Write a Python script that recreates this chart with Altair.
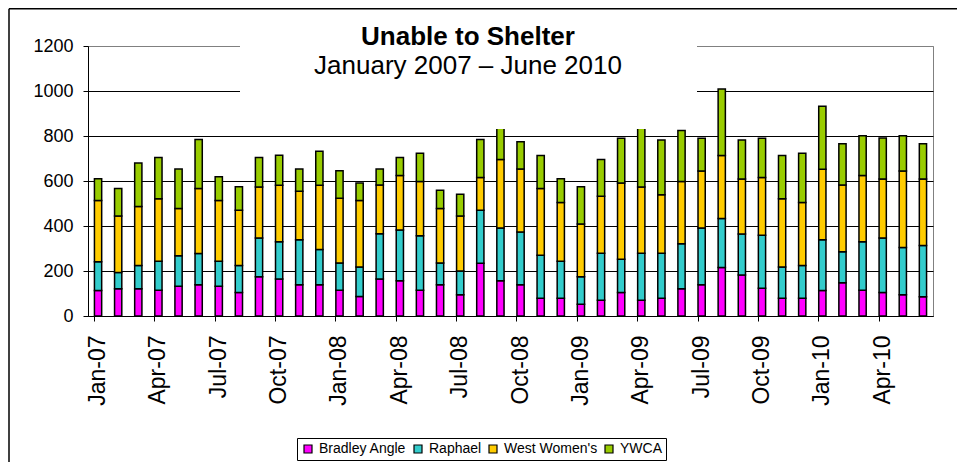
import altair as alt
import pandas as pd

months = ["Jan-07", "Feb-07", "Mar-07", "Apr-07", "May-07", "Jun-07",
          "Jul-07", "Aug-07", "Sep-07", "Oct-07", "Nov-07", "Dec-07",
          "Jan-08", "Feb-08", "Mar-08", "Apr-08", "May-08", "Jun-08",
          "Jul-08", "Aug-08", "Sep-08", "Oct-08", "Nov-08", "Dec-08",
          "Jan-09", "Feb-09", "Mar-09", "Apr-09", "May-09", "Jun-09",
          "Jul-09", "Aug-09", "Sep-09", "Oct-09", "Nov-09", "Dec-09",
          "Jan-10", "Feb-10", "Mar-10", "Apr-10", "May-10", "Jun-10"]

bradley = [113, 121, 121, 114, 132, 139, 132, 104, 175, 164, 139, 139,
           114, 87, 164, 157, 114, 139, 95, 234, 157, 139, 79, 79,
           52, 70, 104, 70, 79, 121, 139, 216, 182, 123, 79, 79,
           113, 148, 114, 105, 95, 86]
raphael = [128, 72, 104, 129, 136, 139, 111, 121, 172, 166, 200, 157,
           122, 131, 202, 225, 243, 97, 105, 236, 234, 234, 191, 164,
           123, 209, 148, 209, 200, 200, 252, 217, 182, 236, 139, 146,
           226, 138, 216, 242, 210, 227]
west = [272, 251, 262, 278, 210, 289, 270, 245, 226, 251, 215, 285,
        287, 295, 216, 243, 241, 242, 244, 146, 305, 280, 297, 261,
        234, 253, 339, 294, 260, 277, 253, 280, 245, 257, 303, 280,
        313, 296, 295, 262, 339, 296]
ywca = [97, 123, 193, 184, 175, 217, 106, 105, 132, 133, 99, 151,
        123, 78, 71, 80, 125, 81, 97, 168, 180, 122, 146, 106,
        166, 164, 199, 300, 243, 227, 146, 296, 173, 174, 192, 218,
        280, 184, 176, 182, 157, 157]

series_names = ["Bradley Angle", "Raphael", "West Women's", "YWCA"]
series_colors = ["#FF00FF", "#33CCCC", "#FFCC00", "#99CC00"]
tick_months = ["Jan-07", "Apr-07", "Jul-07", "Oct-07", "Jan-08", "Apr-08",
               "Jul-08", "Oct-08", "Jan-09", "Apr-09", "Jul-09", "Oct-09",
               "Jan-10", "Apr-10"]
y_ticks = [0, 200, 400, 600, 800, 1000, 1200]

rows = []
for i, m in enumerate(months):
    for k, vals in enumerate([bradley, raphael, west, ywca]):
        rows.append({"Month": m, "Series": series_names[k], "Order": k, "Value": vals[i]})
df = pd.DataFrame(rows)

FONT = "Liberation Sans"
W, H = 845, 270

bars = alt.Chart(df).mark_bar(stroke="black", strokeWidth=1.5).encode(
    x=alt.X("Month:N", sort=months,
            scale=alt.Scale(paddingInner=0.64, paddingOuter=0.32),
            axis=alt.Axis(title=None, values=tick_months, labelAngle=270,
                          labelFontSize=23, labelFont=FONT, labelColor="black",
                          labelPadding=14, tickSize=5, tickColor="black",
                          domainColor="black", bandPosition=0, grid=False)),
    y=alt.Y("Value:Q", stack="zero",
            scale=alt.Scale(domain=[0, 1200], nice=False),
            axis=alt.Axis(title=None, values=y_ticks, format="d", labelFontSize=18,
                          labelFont=FONT, labelColor="black", labelPadding=10,
                          tickSize=5, tickColor="black", domainColor="black",
                          grid=True,
                          gridColor={"condition": {"test": "datum.value === 1200", "value": "#808080"},
                                     "value": "black"})),
    color=alt.Color("Series:N",
                    scale=alt.Scale(domain=series_names, range=series_colors),
                    legend=alt.Legend(title=None, orient="none", legendX=209, legendY=392,
                                      direction="horizontal", symbolType="square",
                                      symbolSize=64, symbolStrokeColor="black",
                                      symbolStrokeWidth=1.2, labelFontSize=14,
                                      labelFont=FONT, labelColor="black",
                                      strokeColor="black", fillColor="white",
                                      padding=4, columnPadding=4, labelOffset=4)),
    order=alt.Order("Order:Q", sort="ascending"),
)

one = alt.Data(values=[{"k": 1}])

box = alt.Chart(one).mark_rect(fill="white").encode(
    x=alt.value(152), x2=alt.value(609), y=alt.value(-31), y2=alt.value(83))

title = alt.Chart(one).mark_text(text="Unable to Shelter", font=FONT, fontSize=26,
                                 fontWeight="bold", align="center", baseline="alphabetic",
                                 color="black").encode(x=alt.value(380), y=alt.value(-1))
subtitle = alt.Chart(one).mark_text(text="January 2007 \u2013 June 2010", font=FONT,
                                    fontSize=26, align="center", baseline="alphabetic",
                                    color="black").encode(x=alt.value(380), y=alt.value(28))

frame_top = alt.Chart(one).mark_rule(stroke="black", strokeWidth=1.5).encode(
    x=alt.value(-79), x2=alt.value(1000), y=alt.value(-37.25))
frame_left = alt.Chart(one).mark_rule(stroke="black", strokeWidth=1.5).encode(
    x=alt.value(-79), y=alt.value(-37.25), y2=alt.value(600))

chart = alt.layer(bars, box, title, subtitle, frame_top, frame_left).properties(
    width=W, height=H,
    padding={"left": 80, "top": 38, "right": 24, "bottom": 146},
    autosize=alt.AutoSizeParams(type="none"),
    background="white",
).configure_view(stroke="#808080", strokeWidth=1)

chart.save("out.html", embed_options={"renderer": "svg", "actions": False})
